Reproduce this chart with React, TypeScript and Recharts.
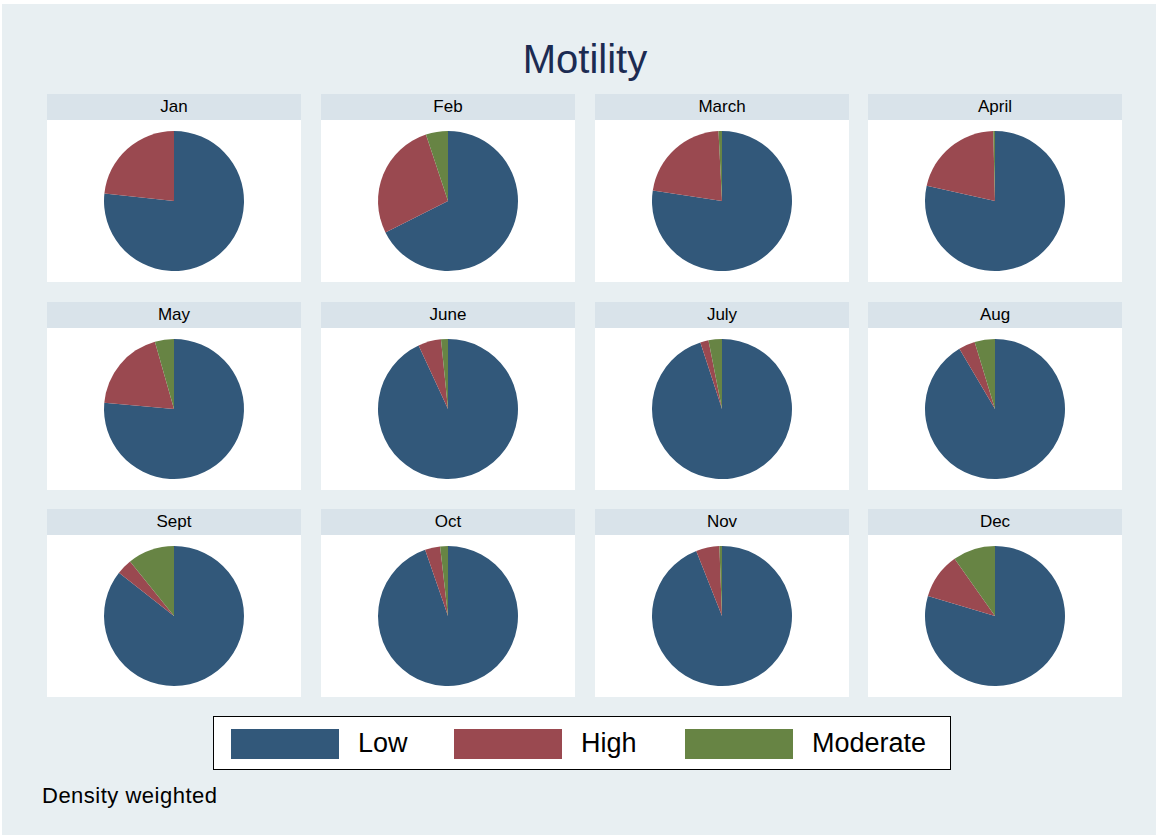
import React from 'react';
import { PieChart, Pie, Cell } from 'recharts';

/* ── Data (percent of density-weighted counts) ── */
const months = ['Jan', 'Feb', 'March', 'April', 'May', 'June', 'July', 'Aug', 'Sept', 'Oct', 'Nov', 'Dec'];
const lowPct = [76.7, 67.6, 77.4, 78.5, 76.4, 93.1, 95.0, 91.5, 85.6, 94.7, 94.0, 79.6];
const highPct = [23.3, 27.3, 21.8, 21.1, 19.2, 5.3, 1.9, 3.8, 3.6, 3.5, 5.4, 10.6];
const moderatePct = [0, 5.1, 0.8, 0.4, 4.4, 1.6, 3.1, 4.7, 10.8, 1.8, 0.6, 9.8];
const categories = ['Low', 'High', 'Moderate'];

/* ── Style tokens ── */
const COLORS = {
  page: '#ffffff',
  bg: '#e8eff2',
  strip: '#d9e3ea',
  plot: '#ffffff',
  title: '#1c2b52',
  text: '#000000',
  slices: ['#32587a', '#9a4950', '#678444'],
};
const FONT = "'Liberation Sans', Arial, Helvetica, sans-serif";

const COL_X = [47, 321, 595, 868];
const ROW_Y = [94, 302, 509];
const PANEL_W = 254;
const STRIP_H = 26;
const PLOT_H = 162;

const MonthPie: React.FC<{ index: number }> = ({ index }) => {
  const data = categories.map((name, k) => ({
    name,
    value: [lowPct, highPct, moderatePct][k][index],
  }));
  const x = COL_X[index % 4];
  const y = ROW_Y[Math.floor(index / 4)];
  return (
    <div style={{ position: 'absolute', left: x, top: y, width: PANEL_W }}>
      <div
        style={{
          height: STRIP_H,
          background: COLORS.strip,
          fontFamily: FONT,
          fontSize: 17,
          lineHeight: `${STRIP_H}px`,
          textAlign: 'center',
          color: COLORS.text,
        }}
      >
        {months[index]}
      </div>
      <div style={{ background: COLORS.plot, height: PLOT_H }}>
        <PieChart width={PANEL_W} height={PLOT_H} margin={{ top: 0, right: 0, bottom: 0, left: 0 }}>
          <Pie
            data={data}
            dataKey="value"
            nameKey="name"
            cx="50%"
            cy="50%"
            outerRadius={70}
            startAngle={90}
            endAngle={-270}
            stroke="none"
            isAnimationActive={false}
          >
            {data.map((d, k) => (
              <Cell key={d.name} fill={COLORS.slices[k]} />
            ))}
          </Pie>
        </PieChart>
      </div>
    </div>
  );
};

export default function App() {
  return (
    <div style={{ position: 'absolute', left: 0, top: 0, width: 1156, height: 838, background: COLORS.page }}>
      <div style={{ position: 'absolute', left: 2, top: 4, width: 1154, height: 831, background: COLORS.bg }}>
        {/* Title */}
        <div
          style={{
            position: 'absolute',
            left: 6,
            top: 33,
            width: 1154,
            textAlign: 'center',
            fontFamily: FONT,
            fontSize: 40,
            color: COLORS.title,
          }}
        >
          Motility
        </div>
      </div>

      {months.map((_, i) => (
        <MonthPie key={i} index={i} />
      ))}

      {/* Legend */}
      <div
        style={{
          position: 'absolute',
          left: 213,
          top: 716,
          width: 738,
          height: 54,
          boxSizing: 'border-box',
          border: '1.5px solid #000',
          background: '#fff',
        }}
      >
        {categories.map((c, k) => {
          const sx = [17, 240, 471][k];
          return (
            <React.Fragment key={c}>
              <div
                style={{
                  position: 'absolute',
                  left: sx,
                  top: 12,
                  width: 108,
                  height: 30,
                  background: COLORS.slices[k],
                }}
              />
              <div
                style={{
                  position: 'absolute',
                  left: sx + 127,
                  top: 9,
                  fontFamily: FONT,
                  fontSize: 27,
                  lineHeight: '34px',
                  color: COLORS.text,
                  whiteSpace: 'nowrap',
                }}
              >
                {c}
              </div>
            </React.Fragment>
          );
        })}
      </div>

      {/* Note */}
      <div
        style={{
          position: 'absolute',
          left: 42,
          top: 783,
          fontFamily: FONT,
          fontSize: 22,
          letterSpacing: 0.5,
          color: COLORS.text,
          whiteSpace: 'nowrap',
        }}
      >
        Density weighted
      </div>
    </div>
  );
}
